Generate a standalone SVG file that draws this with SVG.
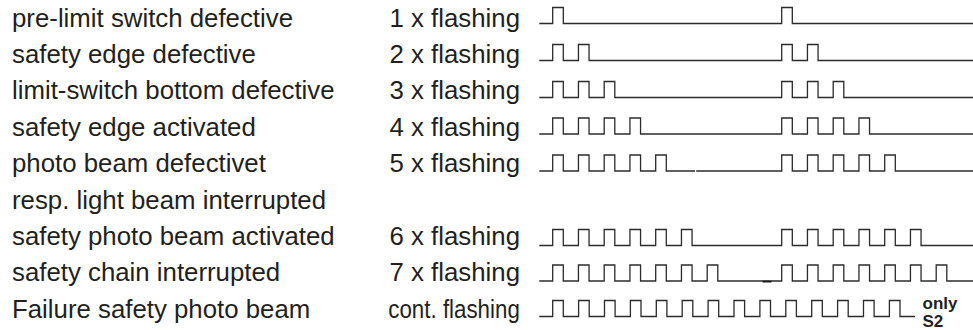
<svg xmlns="http://www.w3.org/2000/svg" width="973" height="330" viewBox="0 0 973 330">
<style>
.t{font-family:"Liberation Sans",Arial,sans-serif;font-size:25.8px;fill:#231f20}
.n{font-family:"Liberation Sans",Arial,sans-serif;font-size:17px;font-weight:bold;fill:#231f20}
.w{fill:none;stroke:#2b2b2b;stroke-width:1.3;stroke-linejoin:miter}
</style>
<rect width="973" height="330" fill="#fff"/>
<g id="labels">
<text class="t" x="12" y="26.5">pre-limit switch defective</text>
<text class="t" x="12" y="62.9">safety edge defective</text>
<text class="t" x="12" y="99.3">limit-switch bottom defective</text>
<text class="t" x="12" y="135.7">safety edge activated</text>
<text class="t" x="12" y="172.1">photo beam defectivet</text>
<text class="t" x="12" y="208.5">resp. light beam interrupted</text>
<text class="t" x="12" y="244.9">safety photo beam activated</text>
<text class="t" x="12" y="281.3">safety chain interrupted</text>
<text class="t" x="12" y="317.7">Failure safety photo beam</text>
</g>
<g id="modes">
<text class="t" x="389.5" y="26.5">1 x flashing</text>
<text class="t" x="389.5" y="62.9">2 x flashing</text>
<text class="t" x="389.5" y="99.3">3 x flashing</text>
<text class="t" x="389.5" y="135.7">4 x flashing</text>
<text class="t" x="389.5" y="172.1">5 x flashing</text>
<text class="t" x="389.5" y="244.9">6 x flashing</text>
<text class="t" x="389.5" y="281.3">7 x flashing</text>
<text class="t" x="388.3" y="317.7" textLength="131.5" lengthAdjust="spacingAndGlyphs">cont. flashing</text>
</g>
<g id="waveforms">
<path class="w" d="M539.3 23.5h13.4v-16h10.6v16H781.7v-16h10.6v16H973"/>
<path class="w" d="M539.3 60.5h13.4v-16h10.6v16h15.15v-16h10.6v16H781.7v-16h10.6v16h15.15v-16h10.6v16H973"/>
<path class="w" d="M539.3 97.5h13.4v-16h10.6v16h15.15v-16h10.6v16h15.15v-16h10.6v16H781.7v-16h10.6v16h15.15v-16h10.6v16h15.15v-16h10.6v16H973"/>
<path class="w" d="M539.3 134h13.4v-16h10.6v16h15.15v-16h10.6v16h15.15v-16h10.6v16h15.15v-16h10.6v16H781.7v-16h10.6v16h15.15v-16h10.6v16h15.15v-16h10.6v16h15.15v-16h10.6v16H973"/>
<path class="w" d="M539.3 171h13.4v-16h10.6v16h15.15v-16h10.6v16h15.15v-16h10.6v16h15.15v-16h10.6v16h15.15v-16h10.6v16H695M696.2 171H781.7v-16h10.6v16h15.15v-16h10.6v16h15.15v-16h10.6v16h15.15v-16h10.6v16h15.15v-16h10.6v16H973"/>
<path class="w" d="M539.3 245.5h13.4v-16h10.6v16h15.15v-16h10.6v16h15.15v-16h10.6v16h15.15v-16h10.6v16h15.15v-16h10.6v16h15.15v-16h10.6v16H781.7v-16h10.6v16h15.15v-16h10.6v16h15.15v-16h10.6v16h15.15v-16h10.6v16h15.15v-16h10.6v16h15.15v-16h10.6v16H973"/>
<path class="w" d="M539.3 281h13.4v-16h10.6v16h15.15v-16h10.6v16h15.15v-16h10.6v16h15.15v-16h10.6v16h15.15v-16h10.6v16h15.15v-16h10.6v16h15.15v-16h10.6v16H781.7v-16h10.6v16h15.15v-16h10.6v16h15.15v-16h10.6v16h15.15v-16h10.6v16h15.15v-16h10.6v16h15.15v-16h10.6v16h15.15v-16h10.6v16H973"/>
<path d="M762.5 281.6H771.5" fill="none" stroke="#1a1a1a" stroke-width="1.8"/>
<path class="w" d="M539.3 316.5h13.4v-16h10.6v16h15.3v-16h10.6v16h15.3v-16h10.6v16h15.3v-16h10.6v16h15.3v-16h10.6v16h15.3v-16h10.6v16h15.3v-16h10.6v16h15.3v-16h10.6v16h15.3v-16h10.6v16h15.3v-16h10.6v16h15.3v-16h10.6v16h15.3v-16h10.6v16h15.3v-16h10.6v16h15.3v-16h10.6v16H915"/>
<text class="n" x="922.5" y="308.5">only</text>
<text class="n" x="922.5" y="326.5">S2</text>
</g>
</svg>
